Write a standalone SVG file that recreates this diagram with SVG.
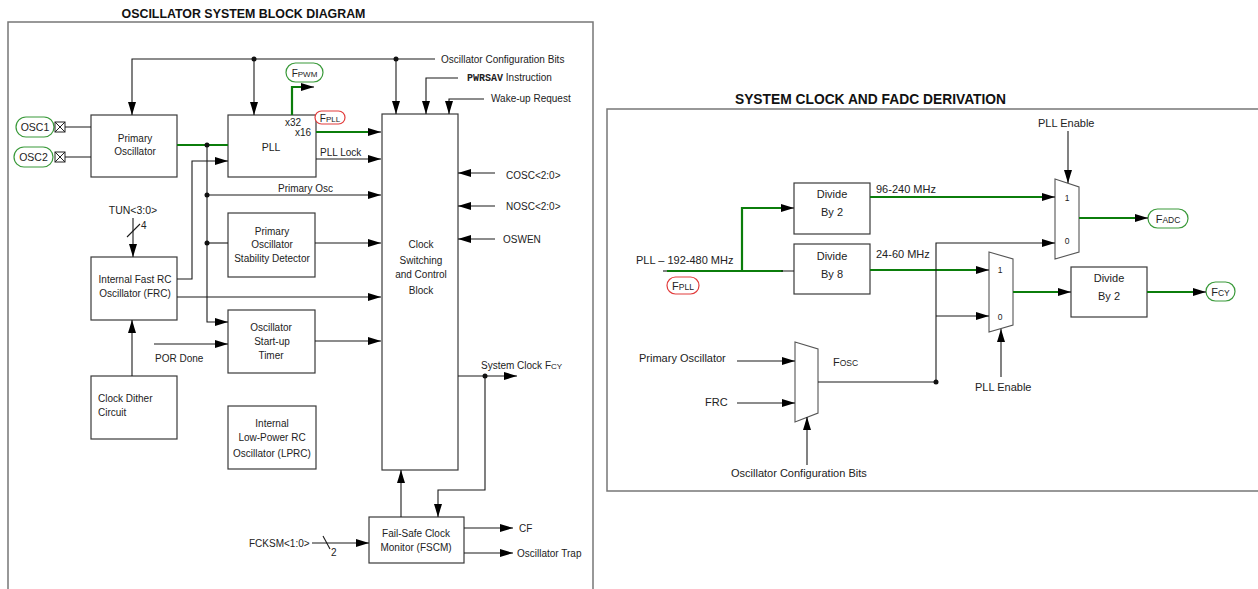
<svg xmlns="http://www.w3.org/2000/svg" width="1258" height="589" viewBox="0 0 1258 589">
<style>
text{font-family:"Liberation Sans",Arial,sans-serif;font-size:10px;fill:#222}
.r text,text.r{font-size:11px}
.t{font-weight:bold;fill:#111}
.box{fill:#fff;stroke:#3a3a3a;stroke-width:1.2}
.mux{fill:#fff;stroke:#555;stroke-width:1.1}
.frame{fill:none;stroke:#777;stroke-width:1.5}
.ln{fill:none;stroke:#1a1a1a;stroke-width:1.1}
.gl{fill:none;stroke:#0b7d0b;stroke-width:2.2}
.pg{fill:#fff;stroke:#3a9a3a;stroke-width:1.2}
.pr{fill:#fff;stroke:#e23c3c;stroke-width:1.2}
.m{text-anchor:middle}
.sm{font-size:8px}
.mx{font-size:8.5px}
.dot{fill:#111}
</style>
<defs>
<marker id="ah" viewBox="0 0 13 8" refX="13" refY="4" markerWidth="13" markerHeight="8" markerUnits="userSpaceOnUse" orient="auto"><path d="M0,0 L13,4 L0,8 z" fill="#000"/></marker>
</defs>

<!-- titles and frames -->
<text class="t m" x="243.5" y="17.5" style="font-size:12.4px">OSCILLATOR SYSTEM BLOCK DIAGRAM</text>
<path class="frame" d="M8,589 V22 H593 V589"/>
<text class="t m" x="870.5" y="104" style="font-size:13.8px">SYSTEM CLOCK AND FADC DERIVATION</text>
<path class="frame" d="M1258,109 H607 V491 H1258"/>

<!-- LEFT NODES -->
<g id="osc1">
<rect class="pg" x="16" y="117" width="38" height="20" rx="10"/>
<text class="m" x="35" y="131" style="font-size:10.5px">OSC1</text>
<rect x="55" y="122" width="10" height="10" fill="#fff" stroke="#222" stroke-width="1"/>
<path d="M55,122 L65,132 M65,122 L55,132" stroke="#222" stroke-width="1"/>
</g>
<g id="osc2">
<rect class="pg" x="14" y="147" width="39" height="20" rx="10"/>
<text class="m" x="33.5" y="161" style="font-size:10.5px">OSC2</text>
<rect x="55" y="152" width="10" height="10" fill="#fff" stroke="#222" stroke-width="1"/>
<path d="M55,152 L65,162 M65,152 L55,162" stroke="#222" stroke-width="1"/>
</g>
<g id="primary-osc">
<rect class="box" x="91" y="115" width="86" height="62"/>
<text class="m" x="135" y="141.5">Primary</text>
<text class="m" x="135" y="154.5">Oscillator</text>
</g>
<g id="pll">
<rect class="box" x="228" y="115" width="88" height="62"/>
<text class="m" x="271" y="150.5" style="font-size:10.5px">PLL</text>
<text x="285" y="125.5">x32</text>
<text x="295" y="135.5">x16</text>
</g>
<g id="fpwm">
<rect class="pg" x="286" y="63" width="37" height="19" rx="9.5"/>
<text class="m" x="304.5" y="76.5">F<tspan class="sm">PWM</tspan></text>
</g>
<g id="fpll-left">
<rect class="pr" x="315" y="111" width="30" height="13" rx="6.5"/>
<text class="m" x="330" y="121.5">F<tspan class="sm">PLL</tspan></text>
</g>
<g id="stability">
<rect class="box" x="228" y="213" width="87" height="64"/>
<text class="m" x="272" y="234.5">Primary</text>
<text class="m" x="272" y="247.5">Oscillator</text>
<text class="m" x="272" y="261.5">Stability Detector</text>
</g>
<g id="frc">
<rect class="box" x="91" y="257" width="86" height="63"/>
<text class="m" x="135" y="282.5">Internal Fast RC</text>
<text class="m" x="135" y="296.5">Oscillator (FRC)</text>
</g>
<g id="startup">
<rect class="box" x="228" y="310" width="87" height="63"/>
<text class="m" x="271" y="330.5">Oscillator</text>
<text class="m" x="272" y="344.5">Start-up</text>
<text class="m" x="271" y="358.5">Timer</text>
</g>
<g id="dither">
<rect class="box" x="91" y="376" width="86" height="63"/>
<text x="98" y="401.5">Clock Dither</text>
<text x="98" y="415.5">Circuit</text>
</g>
<g id="lprc">
<rect class="box" x="228" y="406" width="88" height="63"/>
<text class="m" x="272" y="426.5">Internal</text>
<text class="m" x="272" y="440.5">Low-Power RC</text>
<text class="m" x="272" y="456.5">Oscillator (LPRC)</text>
</g>
<g id="clock-switch">
<rect class="box" x="382" y="114" width="76" height="356"/>
<text class="m" x="421" y="247.5">Clock</text>
<text class="m" x="421" y="263.5">Switching</text>
<text class="m" x="421" y="277.5">and Control</text>
<text class="m" x="421" y="293.5">Block</text>
</g>
<g id="fscm">
<rect class="box" x="369" y="517" width="95" height="46"/>
<text class="m" x="416" y="536.5">Fail-Safe Clock</text>
<text class="m" x="416" y="550.5">Monitor (FSCM)</text>
</g>
<g id="left-labels">
<text x="441" y="63">Oscillator Configuration Bits</text>
<text x="467" y="81"><tspan style="font-family:'Liberation Mono',monospace;font-weight:bold;font-size:10px">PWRSAV</tspan> Instruction</text>
<text x="491" y="101.5">Wake-up Request</text>
<text x="506" y="178.5">COSC&lt;2:0&gt;</text>
<text x="506" y="210">NOSC&lt;2:0&gt;</text>
<text x="503" y="243">OSWEN</text>
<text x="481" y="369">System Clock F<tspan class="sm">CY</tspan></text>
<text x="519" y="531.5">CF</text>
<text x="517" y="556.5">Oscillator Trap</text>
<text x="249" y="546.5">FCKSM&lt;1:0&gt;</text>
<text x="331" y="556">2</text>
<text x="155" y="361.5">POR Done</text>
<text class="m" x="133" y="213.5" style="font-size:10.5px">TUN&lt;3:0&gt;</text>
<text x="141" y="229">4</text>
<text x="278" y="191.5">Primary Osc</text>
<text x="320" y="155.5">PLL Lock</text>
</g>

<!-- RIGHT NODES -->
<g id="div2a" class="r">
<rect class="box" x="794" y="183" width="76" height="51"/>
<text class="m" x="832" y="198">Divide</text>
<text class="m" x="832" y="216">By 2</text>
</g>
<g id="div8" class="r">
<rect class="box" x="794" y="244" width="76" height="50"/>
<text class="m" x="832" y="260">Divide</text>
<text class="m" x="832" y="278">By 8</text>
</g>
<g id="div2b" class="r">
<rect class="box" x="1071" y="267" width="76" height="50"/>
<text class="m" x="1109" y="282">Divide</text>
<text class="m" x="1109" y="300">By 2</text>
</g>
<g id="mux-adc">
<path class="mux" d="M1055,179 L1079,187 L1079,252 L1055,259 Z"/>
<text class="m mx" x="1067" y="201">1</text>
<text class="m mx" x="1067" y="244">0</text>
</g>
<g id="mux-cy">
<path class="mux" d="M989,252 L1013,259 L1013,325 L989,332 Z"/>
<text class="m mx" x="1000" y="273">1</text>
<text class="m mx" x="1000" y="320">0</text>
</g>
<g id="mux-osc">
<path class="mux" d="M795,342 L818,349 L818,413 L795,422 Z"/>
</g>
<g id="fpll-right">
<rect class="pr" x="667" y="277" width="32" height="17" rx="8.5"/>
<text class="m" x="683" y="289.5" style="font-size:11px">F<tspan style="font-size:8.5px">PLL</tspan></text>
</g>
<g id="fadc">
<rect class="pg" x="1148" y="209" width="40" height="19" rx="9.5"/>
<text class="m" x="1168" y="222.5" style="font-size:11px">F<tspan style="font-size:8.5px">ADC</tspan></text>
</g>
<g id="fcy">
<rect class="pg" x="1206" y="282" width="29" height="19" rx="9.5"/>
<text class="m" x="1220.5" y="295.5" style="font-size:11px">F<tspan style="font-size:8.5px">CY</tspan></text>
</g>
<g id="right-labels" class="r">
<text x="1038" y="127">PLL Enable</text>
<text x="876" y="193">96-240 MHz</text>
<text x="876" y="258">24-60 MHz</text>
<text x="636" y="264">PLL – 192-480 MHz</text>
<text x="975" y="391">PLL Enable</text>
<text x="639" y="362">Primary Oscillator</text>
<text x="705" y="406">FRC</text>
<text x="833" y="366">F<tspan style="font-size:8.5px">OSC</tspan></text>
<text x="731" y="477">Oscillator Configuration Bits</text>
</g>

<!-- CONNECTORS -->
<g id="connectors">
<path class="ln" d="M435,59 H132 V115" marker-end="url(#ah)"/>
<path class="ln" d="M254,59 V115" marker-end="url(#ah)"/>
<path class="ln" d="M396,59 V114" marker-end="url(#ah)"/>
<path class="ln" d="M458,78 H426 V114" marker-end="url(#ah)"/>
<path class="ln" d="M484,99 H449 V114" marker-end="url(#ah)"/>
<path class="ln" d="M495,173 H458" marker-end="url(#ah)"/>
<path class="ln" d="M495,206 H458" marker-end="url(#ah)"/>
<path class="ln" d="M495,239 H458" marker-end="url(#ah)"/>
<path class="ln" d="M65,127 H91 M65,157 H91"/>
<path class="gl" d="M177,145 H228"/>
<path class="ln" d="M207,145 V322 H228" marker-end="url(#ah)"/>
<path class="ln" d="M207,195 H381" marker-end="url(#ah)"/>
<path class="ln" d="M207,243 H228"/>
<path class="ln" d="M177,279 H192 V161 H228" marker-end="url(#ah)"/>
<path class="ln" d="M177,297 H381" marker-end="url(#ah)"/>
<path class="gl" d="M292,115 V87 H302"/>
<path class="ln" d="M301,87 H314" marker-end="url(#ah)"/>
<path class="gl" d="M316,132 H370"/>
<path class="ln" d="M369,132 H381" marker-end="url(#ah)"/>
<path class="ln" d="M316,159 H381" marker-end="url(#ah)"/>
<path class="ln" d="M315,243 H381" marker-end="url(#ah)"/>
<path class="ln" d="M315,341 H381" marker-end="url(#ah)"/>
<path class="ln" d="M154,344 H228" marker-end="url(#ah)"/>
<path class="ln" d="M133,218 V257" marker-end="url(#ah)"/>
<path class="ln" d="M127,237 L140,224"/>
<path class="ln" d="M132,376 V320" marker-end="url(#ah)"/>
<path class="ln" d="M458,376 H517" marker-end="url(#ah)"/>
<path class="ln" d="M485,376 V490 H438 V517" marker-end="url(#ah)"/>
<path class="ln" d="M401,517 V470" marker-end="url(#ah)"/>
<path class="ln" d="M312,543 H369" marker-end="url(#ah)"/>
<path class="ln" d="M323,536 L330,549"/>
<path class="ln" d="M464,528 H513" marker-end="url(#ah)"/>
<path class="ln" d="M464,553 H513" marker-end="url(#ah)"/>
<circle class="dot" cx="254" cy="59" r="2.5"/>
<circle class="dot" cx="396" cy="59" r="2.5"/>
<circle class="dot" cx="207" cy="145" r="2.5"/>
<circle class="dot" cx="207" cy="195" r="2.5"/>
<circle class="dot" cx="207" cy="243" r="2.5"/>
<circle class="dot" cx="485" cy="376" r="2.5"/>

<path class="ln" d="M663,271 H668"/>
<path class="gl" d="M667,271 H783 M742,271 V208 H783"/>
<path class="ln" d="M781,271 H794 M781,208 H794" marker-end="url(#ah)"/>
<path class="gl" d="M870,197 H1044"/>
<path class="ln" d="M1042,197 H1055" marker-end="url(#ah)"/>
<path class="gl" d="M870,270 H978"/>
<path class="ln" d="M976,270 H989" marker-end="url(#ah)"/>
<path class="gl" d="M1079,218 H1137"/>
<path class="ln" d="M1135,218 H1148" marker-end="url(#ah)"/>
<path class="gl" d="M1013,292 H1060"/>
<path class="ln" d="M1058,292 H1071" marker-end="url(#ah)"/>
<path class="gl" d="M1147,292 H1195"/>
<path class="ln" d="M1193,292 H1206" marker-end="url(#ah)"/>
<path class="ln" d="M1068,131 V183" marker-end="url(#ah)"/>
<path class="ln" d="M1001,377 V329" marker-end="url(#ah)"/>
<path class="ln" d="M818,382 H936 V243 H1055" marker-end="url(#ah)"/>
<path class="ln" d="M936,316 H989" marker-end="url(#ah)"/>
<path class="ln" d="M737,361 H795" marker-end="url(#ah)"/>
<path class="ln" d="M737,403 H795" marker-end="url(#ah)"/>
<path class="ln" d="M807,465 V417" marker-end="url(#ah)"/>
<circle class="dot" cx="936" cy="382" r="2.5"/>
</g>
</svg>
